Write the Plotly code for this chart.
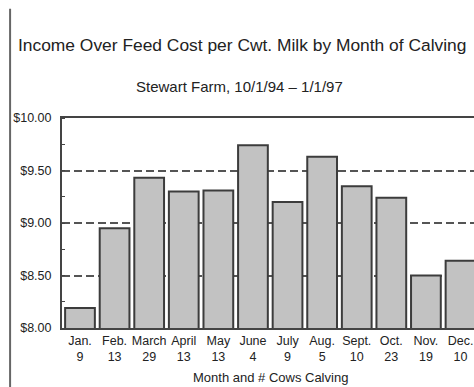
import plotly.graph_objects as go

# Month of calving and number of cows calving in each month
months = ["Jan.", "Feb.", "March", "April", "May", "June",
          "July", "Aug.", "Sept.", "Oct.", "Nov.", "Dec."]
cows = [9, 13, 29, 13, 13, 4, 9, 5, 10, 23, 19, 10]
# Income over feed cost, $ per cwt. milk
income = [8.19, 8.95, 9.43, 9.30, 9.31, 9.74, 9.20, 9.63, 9.35, 9.24, 8.50, 8.64]
y_ticks = [8.0, 8.5, 9.0, 9.5, 10.0]
y_tick_text = ["$8.00", "$8.50", "$9.00", "$9.50", "$10.00"]

labels = [f"{m}<br>{n}" for m, n in zip(months, cows)]
font_family = "Liberation Sans, Arial, sans-serif"
ink = "#222222"

fig = go.Figure(
    go.Bar(
        x=list(range(len(months))),
        y=income,
        base=0,
        width=0.86,
        marker=dict(color="#c2c2c2", line=dict(color="#3c3c3c", width=2)),
        hoverinfo="skip",
    )
)

fig.update_layout(
    width=474,
    height=387,
    margin=dict(l=62, r=0, t=118, b=59),
    paper_bgcolor="white",
    plot_bgcolor="white",
    showlegend=False,
    font=dict(family=font_family, color=ink, size=12),
    xaxis=dict(
        tickmode="array",
        tickvals=list(range(len(months))),
        ticktext=labels,
        range=[-0.52, 11.39],
        showline=True,
        linecolor="#444",
        linewidth=2,
        mirror=True,
        ticks="",
        showgrid=False,
        tickfont=dict(size=12.5, color=ink),
    ),
    yaxis=dict(
        range=[8.0, 10.0],
        tickmode="array",
        tickvals=y_ticks,
        ticktext=y_tick_text,
        showline=True,
        linecolor="#444",
        linewidth=2,
        showgrid=True,
        gridcolor="#555",
        gridwidth=2,
        griddash="8px,4px",
        ticks="",
        ticklabelstandoff=6,
        tickfont=dict(size=12.5, color=ink),
        minor=dict(dtick=0.25, ticks="inside", ticklen=3,
                   tickcolor="#444", showgrid=False),
        zeroline=False,
    ),
    annotations=[
        dict(text="Income Over Feed Cost per Cwt. Milk by Month of Calving",
             xref="paper", yref="paper", x=0.438, y=1.348,
             xanchor="center", yanchor="middle", showarrow=False,
             font=dict(size=17.4, color=ink)),
        dict(text="Stewart Farm, 10/1/94 \u2013 1/1/97",
             xref="paper", yref="paper", x=0.43, y=1.152,
             xanchor="center", yanchor="middle", showarrow=False,
             font=dict(size=15, color=ink)),
        dict(text="Month and # Cows Calving",
             xref="paper", yref="paper", x=0.505, y=-0.236,
             xanchor="center", yanchor="middle", showarrow=False,
             font=dict(size=13, color=ink)),
    ],
    shapes=[
        dict(type="line", xref="paper", yref="paper",
             x0=-0.126, x1=-0.126, y0=-0.29, y1=1.52,
             line=dict(color="#666", width=2)),
    ],
)

fig.write_html("out.html")
